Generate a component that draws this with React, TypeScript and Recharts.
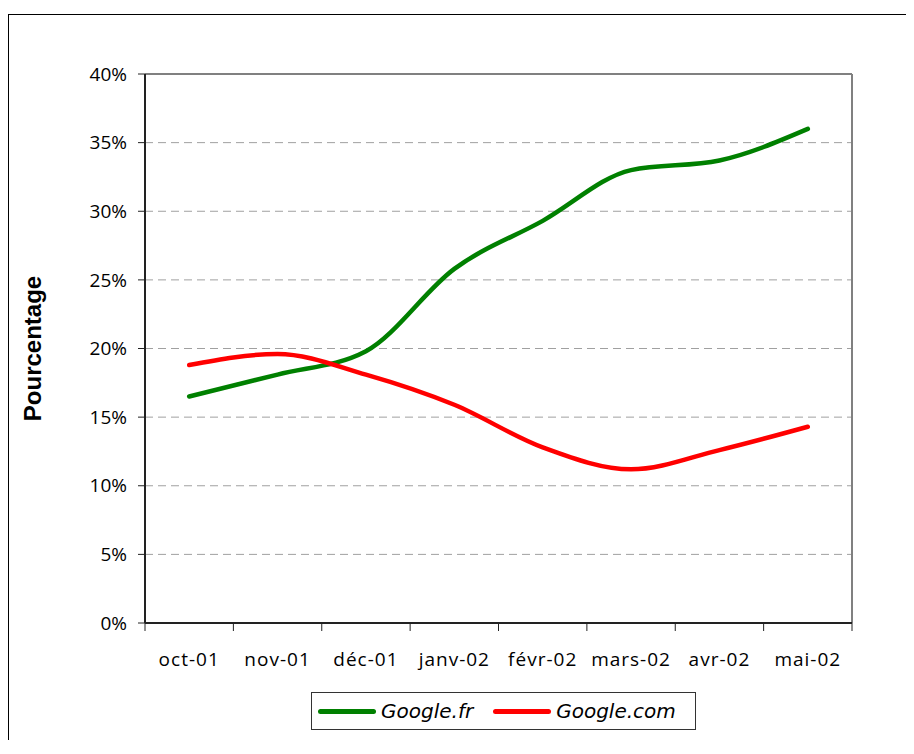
import { LineChart, Line, XAxis, YAxis, CartesianGrid, ReferenceLine } from 'recharts';

const months = ['oct-01', 'nov-01', 'déc-01', 'janv-02', 'févr-02', 'mars-02', 'avr-02', 'mai-02'];
const googleFr = [16.5, 18.1, 19.8, 25.8, 29.3, 33.0, 33.7, 36.0];
const googleCom = [18.8, 19.6, 18.1, 15.9, 12.8, 11.2, 12.6, 14.3];
const yTicks = [0, 5, 10, 15, 20, 25, 30, 35, 40];

const series = [
  { key: 'fr', name: 'Google.fr', color: '#008000' },
  { key: 'com', name: 'Google.com', color: '#ff0000' },
];

// each month sits in the middle of its band, band edges carry the tick marks
const rows = months.map((m, i) => ({ month: m, pos: i + 0.5, fr: googleFr[i], com: googleCom[i] }));
const edgeTicks = months.map((_, i) => i).concat(months.length);
const labelTicks = rows.map(r => r.pos);

const tickFont = { fill: '#000', fontSize: 19, fontFamily: 'Open Sans' };

function ChartLegend() {
  return (
    <div
      style={{
        position: 'absolute',
        left: 302,
        top: 677,
        width: 377,
        height: 36,
        border: '1px solid #333',
        display: 'flex',
        alignItems: 'center',
        paddingLeft: 6,
        boxSizing: 'content-box',
        fontFamily: 'DejaVu Sans',
        fontStyle: 'italic',
        fontSize: 20,
      }}
    >
      {series.map((s, i) => (
        <div key={s.key} style={{ display: 'flex', alignItems: 'center', marginLeft: i ? 20 : 0 }}>
          <div style={{ width: 58, height: 5, borderRadius: 3, background: s.color, marginRight: 5 }} />
          <span>{s.name}</span>
        </div>
      ))}
    </div>
  );
}

export default function App() {
  return (
    <div style={{ paddingTop: 6 }}>
      <div
        style={{
          position: 'relative',
          width: 897,
          height: 725,
          borderTop: '1px solid #000',
          borderLeft: '1px solid #000',
          background: '#fff',
        }}
      >
        <LineChart width={897} height={725} data={rows} margin={{ top: 59, right: 54, bottom: 69, left: 0 }}>
          <CartesianGrid xAxisId="a" yAxisId="y" vertical={false} stroke="#a0a0a0" strokeDasharray="8 5" />
          <XAxis
            xAxisId="a"
            type="number"
            dataKey="pos"
            domain={[0, 8]}
            ticks={edgeTicks}
            interval={0}
            tickFormatter={() => ''}
            tickSize={8}
            height={8}
            axisLine={{ stroke: '#222', strokeWidth: 2 }}
            tickLine={{ stroke: '#222', strokeWidth: 1 }}
          />
          <XAxis
            xAxisId="b"
            type="number"
            dataKey="pos"
            domain={[0, 8]}
            ticks={labelTicks}
            interval={0}
            tickFormatter={(v: number) => months[Math.floor(v)]}
            tick={{ ...tickFont, letterSpacing: 1 }}
            tickSize={0}
            tickMargin={22}
            height={40}
            axisLine={false}
            tickLine={false}
          />
          <YAxis
            yAxisId="y"
            domain={[0, 40]}
            ticks={yTicks}
            width={136}
            tick={tickFont}
            tickFormatter={(v: number) => `${v}%`}
            tickSize={7}
            tickMargin={11}
            axisLine={{ stroke: '#222', strokeWidth: 2 }}
            tickLine={{ stroke: '#222' }}
            label={{
              value: 'Pourcentage',
              angle: -90,
              position: 'insideLeft',
              offset: 23,
              style: { textAnchor: 'middle', fontFamily: 'Liberation Sans', fontWeight: 'bold', fontSize: 24, fill: '#000' },
            }}
          />
          {/* grey frame on the top and right of the plot area */}
          <ReferenceLine xAxisId="a" yAxisId="y" y={40} stroke="#808080" strokeWidth={2} />
          <ReferenceLine xAxisId="a" yAxisId="y" x={8} stroke="#808080" strokeWidth={2} />
          {series.map(s => (
            <Line
              key={s.key}
              xAxisId="a"
              yAxisId="y"
              type="monotone"
              dataKey={s.key}
              name={s.name}
              stroke={s.color}
              strokeWidth={4.5}
              strokeLinecap="round"
              dot={false}
              activeDot={false}
              isAnimationActive={false}
            />
          ))}
        </LineChart>
        <ChartLegend />
      </div>
    </div>
  );
}
